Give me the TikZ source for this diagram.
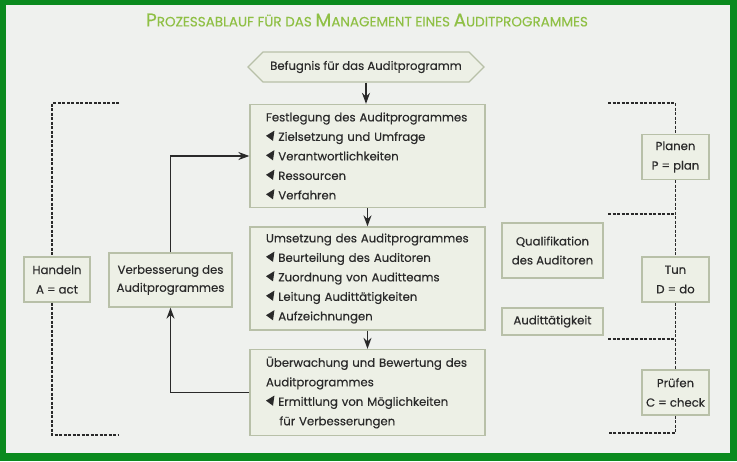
\documentclass[tikz,border=0pt]{standalone}
\usepackage{fontspec}
\setmainfont{Poppins}[FakeBold=0.3]
\usepackage{tikz}
\usetikzlibrary{shapes, shapes.symbols, arrows.meta, positioning}

\definecolor{framegreen}{HTML}{0A8A1E}
\definecolor{titlegreen}{HTML}{8FC045}
\definecolor{paper}{HTML}{EFF1EE}
\definecolor{boxfill}{HTML}{EDF0E6}
\definecolor{boxline}{HTML}{B8C0A8}
\definecolor{ink}{HTML}{2A2A2A}

\newcommand{\bul}{\tikz[baseline=0pt]\fill[ink] (0,0.8ex) -- (0.72em,1.6ex) -- (0.6em,0ex) -- cycle;\ }
\newcommand{\initial}[2]{{\fontsize{18.5}{20}\selectfont #1}{\fontsize{13.5}{20}\selectfont #2}}

\begin{document}
\begin{tikzpicture}[x=1pt, y=-1pt, every node/.style={text=ink, font=\fontsize{11.7}{19.5}\selectfont}]
	\tikzstyle{box_style}=[rectangle, draw=boxline, fill=boxfill, line width=1.3pt, inner sep=0pt, align=center]
	\tikzstyle{list_style}=[box_style, minimum width=235, text width=203, align=left]
	\tikzstyle{pdca_style}=[box_style, minimum width=67, minimum height=45, font=\fontsize{11.7}{19.5}\selectfont]
	\tikzstyle{hex_style}=[signal, signal to=west and east, signal pointer angle=90, draw=boxline, fill=boxfill, line width=1.3pt, minimum width=236, minimum height=30, inner sep=0pt]
	\tikzstyle{flow_arrow}=[draw=ink, line width=1.5pt, -{Stealth[length=11pt, width=8pt]}]
	\tikzstyle{pdca_line}=[draw=ink, line width=1.3pt, dash pattern=on 3pt off 1.5pt]

	% frame
	\fill[framegreen] (0,0) rectangle (737,461);
	\fill[paper] (6,5) rectangle (730,453);

	% title
	\node at (367,20) [text=titlegreen] (title) {\initial{P}{ROZESSABLAUF FÜR DAS }\initial{M}{ANAGEMENT EINES }\initial{A}{UDITPROGRAMMES}};

	% authority
	\node at (366,67) [hex_style] (authority) {Befugnis für das Auditprogramm};

	% process steps
	\node at (367.5,156) [list_style, minimum height=103] (planning) {Festlegung des Auditprogrammes\\ \bul Zielsetzung und Umfrage\\ \bul Verantwortlichkeiten\\ \bul Ressourcen\\ \bul Verfahren};
	\node at (367.5,278.5) [list_style, minimum height=103] (doing) {Umsetzung des Auditprogrammes\\ \bul Beurteilung des Auditoren\\ \bul Zuordnung von Auditteams\\ \bul Leitung Audittätigkeiten\\ \bul Aufzeichnungen};
	\node at (367.5,392.5) [list_style, minimum height=86] (checking) {Überwachung und Bewertung des\\ Auditprogrammes\\ \bul Ermittlung von Möglichkeiten\\ \hspace*{1.15em}für Verbesserungen};

	% improvement
	\node at (170.5,280) [box_style, minimum width=123, minimum height=54, font=\fontsize{11.7}{18}\selectfont] (improve) {Verbesserung des\\ Auditprogrammes};

	% side notes
	\node at (552.5,250.5) [box_style, minimum width=101, minimum height=55, font=\fontsize{11.7}{19}\selectfont] (qualify) {Qualifikation\\ des Auditoren};
	\node at (552.5,321.5) [box_style, minimum width=101, minimum height=27] (activity) {Audittätigkeit};

	% pdca
	\node at (57,279.5) [pdca_style, minimum width=66] (act) {Handeln\\ A = act};
	\node at (675.5,157) [pdca_style] (plan) {Planen\\ P = plan};
	\node at (675.5,279.5) [pdca_style] (do) {Tun\\ D = do};
	\node at (675.5,392.5) [pdca_style] (check) {Prüfen\\ C = check};

	% connect: steps
	\path[flow_arrow] (authority.south) -- (authority.south |- planning.north);
	\path[flow_arrow] (planning) -- (doing);
	\path[flow_arrow] (doing) -- (checking);

	% connect: improvement loop
	\path[flow_arrow] (checking.west) -| (improve.south);
	\path[flow_arrow] (improve.north) |- (planning.west);

	% dashed brackets
	\coordinate (act_top) at (119,103);
	\coordinate (act_bottom) at (119,435);
	\path[pdca_line] (act_top) -| ([xshift=-5]act.north);
	\path[pdca_line] ([xshift=-5]act.south) |- (act_bottom);
	\foreach \y [count=\i] in {103,214,339,433}
		\coordinate (pdca_\i) at (608,\y);
	\path[pdca_line] (pdca_1) -| (plan.north);
	\path[pdca_line] (plan.south) -- (do.north);
	\path[pdca_line] (do.south) -- (check.north);
	\path[pdca_line] (check.south) |- (pdca_4);
	\foreach \i in {2,3}
		\path[pdca_line] (pdca_\i) -- (pdca_\i -| plan.south);

\end{tikzpicture}
\end{document}
